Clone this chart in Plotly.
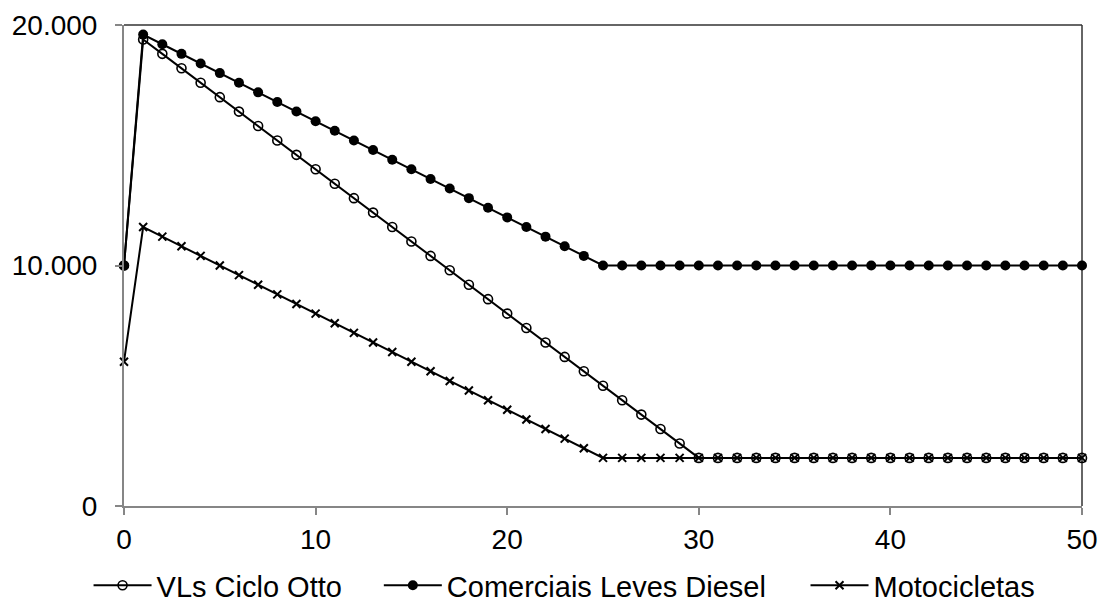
import plotly.graph_objects as go

anos = list(range(0, 51))

otto = [10000] + [19400 - 600 * (i - 1) for i in range(1, 30)] + [2000] * 21
diesel = [10000] + [19600 - 400 * (i - 1) for i in range(1, 25)] + [10000] * 26
moto = [6000] + [11600 - 400 * (i - 1) for i in range(1, 25)] + [2000] * 26

series = [
    ("VLs Ciclo Otto", otto, dict(symbol="circle-open", size=9, color="black", line=dict(width=1.6, color="black")), "legend", -0.037),
    ("Comerciais Leves Diesel", diesel, dict(symbol="circle", size=10, color="black"), "legend2", 0.266),
    ("Motocicletas", moto, dict(symbol="x-thin-open", size=8, color="black", line=dict(width=2, color="black")), "legend3", 0.7114),
]

FS = 28
LFS = 29

fig = go.Figure()
legends = {}
for name, vals, mk, lg, lx in series:
    fig.add_trace(go.Scatter(
        x=anos, y=vals, name=name, mode="lines+markers",
        line=dict(color="black", width=2),
        marker=mk, cliponaxis=False, legend=lg,
    ))
    legends[lg] = dict(orientation="h", x=lx, xanchor="left", y=-0.112,
                       yanchor="top", font=dict(size=LFS), itemwidth=58,
                       bgcolor="rgba(0,0,0,0)", borderwidth=0)

fig.update_layout(
    width=1103, height=611,
    margin=dict(l=124, r=21, t=25, b=105, autoexpand=False),
    paper_bgcolor="white", plot_bgcolor="white",
    font=dict(family="Liberation Sans, Arial, sans-serif", size=FS, color="black"),
    separators=",.",
    showlegend=True,
    xaxis=dict(range=[0, 50], tickvals=[0, 10, 20, 30, 40, 50], showgrid=False,
               zeroline=False, showline=True, linecolor="#868686", linewidth=2,
               ticks="outside", ticklen=7, tickcolor="#868686", tickwidth=1.5,
               tickfont=dict(size=FS)),
    yaxis=dict(range=[0, 20000], tickvals=[0, 10000, 20000], tickformat=",d",
               showgrid=False, zeroline=False, showline=True, linecolor="#868686",
               linewidth=2, ticks="outside", ticklen=7, tickcolor="#868686",
               tickwidth=1.5, tickfont=dict(size=FS), ticklabelstandoff=12),
    **legends,
)

fig.add_shape(type="line", xref="paper", yref="paper", x0=0, x1=1, y0=1, y1=1,
              line=dict(color="#333333", width=1.5), layer="below")
fig.add_shape(type="line", xref="paper", yref="paper", x0=1, x1=1, y0=0, y1=1,
              line=dict(color="#333333", width=1.5), layer="below")

fig.write_html("out.html")
